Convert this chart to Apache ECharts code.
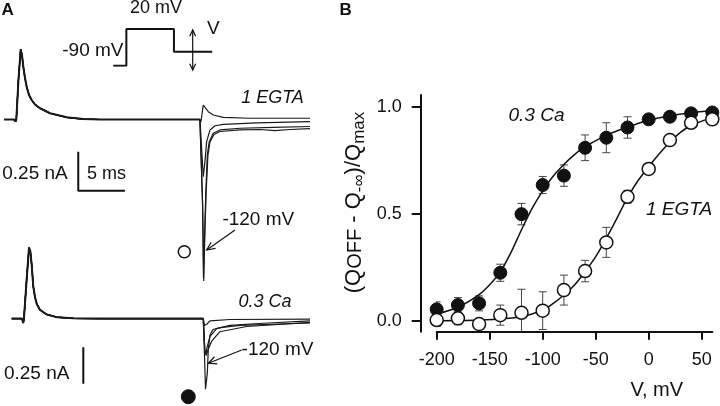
<!DOCTYPE html>
<html><head><meta charset="utf-8">
<script src="https://cdn.jsdelivr.net/npm/echarts@6/dist/echarts.min.js"></script>
<style>html,body{margin:0;padding:0;background:#fff}#c{width:720px;height:406px}</style>
</head><body><div id="c"></div>
<script>
// ---------- Panel A: current traces (time in ms, current in nA) ----------
const egtaOnT = [0,1.07,1.18,1.25,1.32,1.55,1.79,1.93,2.07,2.25,2.43,2.68,2.97,3.32,3.86,4.93,6.72,8.5,10.29,21.0];
const egtaOnI = [0,0,0.01,-0.013,0,0.253,0.45,0.413,0.338,0.266,0.21,0.157,0.125,0.096,0.072,0.04,0.014,0.003,0,0];
const egtaOff1T = [21.0,21.11,21.36,21.54,21.9,22.43,23.5,26.37,32.8];
const egtaOff1I = [0,-0.016,0.093,0.083,0.05,0.029,0.014,0.008,0.008];
const egtaOff2T = [21.0,21.36,21.54,21.72,22.08,22.62,23.51,27.09,32.8];
const egtaOff2I = [0,-0.367,-0.27,-0.142,-0.067,-0.04,-0.031,-0.021,-0.013];
const egtaOff3T = [21.0,21.28,21.38,21.49,21.62,21.79,22.0,22.43,23.15,25.29,28.86,32.8];
const egtaOff3I = [0,-0.516,-1.016,-0.772,-0.484,-0.228,-0.142,-0.088,-0.067,-0.056,-0.05,-0.045];
const egtaOff4T = [21.0,21.3,21.41,21.54,21.68,21.86,22.08,22.51,23.15,25.29,27.44,29.04,30.65,32.8];
const egtaOff4I = [0,-0.58,-1.035,-0.708,-0.452,-0.228,-0.144,-0.096,-0.077,-0.067,-0.064,-0.071,-0.064,-0.058];

const caOnT = [0.83,1.93,2.07,2.14,2.41,2.68,2.82,2.97,3.14,3.32,3.5,3.86,4.58,5.65,7.43,10.29,21.36];
const caOnI = [0,0,-0.03,0.002,0.252,0.487,0.463,0.369,0.22,0.149,0.103,0.06,0.028,0.01,0.002,0,0];
const caOff1T = [21.36,21.49,21.76,22.08,24.22,32.8];
const caOff1I = [0,-0.047,-0.037,-0.015,-0.006,-0.003];
const caOff2T = [21.36,21.52,21.65,21.72,22.08,22.8,24.22,27.79,32.8];
const caOff2I = [0,-0.216,-0.244,-0.208,-0.122,-0.069,-0.047,-0.032,-0.015];
const caOff3T = [21.36,21.54,21.68,21.86,22.26,23.15,26.01,32.8];
const caOff3I = [0,-0.229,-0.254,-0.216,-0.154,-0.09,-0.054,-0.026];
const caOff4T = [21.36,21.51,21.6,21.71,21.79,21.9,22.08,22.4,23.15,25.29,32.8];
const caOff4I = [0,-0.293,-0.485,-0.421,-0.378,-0.208,-0.112,-0.075,-0.062,-0.046,-0.03];

// pulse protocol (schematic)
const protocolT = [0,1.4,1.4,6.5,6.5,10.6];
const protocolV = [-90,-90,20,20,-48,-48];
// scale bars
const scaleMs = 5;
const scaleNA = 0.25;

// ---------- Panel B: charge vs voltage ----------
const voltages = [-200,-180,-160,-140,-120,-100,-80,-60,-40,-20,0,20,40,60];
const ca03 = [0.053,0.073,0.081,0.224,0.498,0.634,0.678,0.808,0.855,0.903,0.941,0.953,0.969,0.973];
const ca03Err = [0.035,0.035,0.035,0.04,0.05,0.04,0.05,0.06,0.07,0.05,0.02,0.015,0.015,0.015];
const egta1 = [0.003,0.011,-0.016,0.026,0.037,0.047,0.143,0.232,0.366,0.579,0.709,0.844,0.925,0.941];
const egta1Err = [0.03,0.03,0.02,0.047,0.11,0.088,0.07,0.05,0.07,0.03,0.02,0.02,0.02,0.02];
const fitCaV = [-200,-180,-160,-150,-140,-130,-120,-110,-100,-90,-80,-70,-60,-40,-20,0,20,40,60];
const fitCa = [0.031,0.063,0.122,0.168,0.228,0.318,0.425,0.525,0.607,0.676,0.73,0.776,0.813,0.866,0.905,0.937,0.958,0.972,0.981];
const fitEgtaV = [-200,-160,-120,-100,-90,-80,-70,-60,-50,-40,-30,-20,-10,0,10,20,30,40,60];
const fitEgta = [0.0,0.003,0.019,0.05,0.081,0.12,0.167,0.229,0.299,0.385,0.478,0.575,0.655,0.72,0.78,0.835,0.88,0.912,0.95];
const xTicks = [-200,-150,-100,-50,0,50];
const yTicks = [0,0.5,1.0];

const FONT = 'Liberation Sans, Arial, Helvetica, sans-serif';
const INK = '#111';

function pairs(t, v){ return t.map((x,i)=>[x, v[i]]); }
function trace(onT,onI,offT,offI){ return pairs(onT,onI).concat(pairs(offT,offI).slice(1)); }

function traceSeries(data, grid, w){
  return {type:'line', xAxisIndex:grid, yAxisIndex:grid, data, symbol:'none', silent:true,
    lineStyle:{color:'#1a1a1a', width:w}, animation:false, z:3};
}

const egtaTraces = [
  trace(egtaOnT,egtaOnI,egtaOff1T,egtaOff1I),
  trace(egtaOnT,egtaOnI,egtaOff2T,egtaOff2I),
  trace(egtaOnT,egtaOnI,egtaOff3T,egtaOff3I),
  trace(egtaOnT,egtaOnI,egtaOff4T,egtaOff4I)
];
const caTraces = [
  trace(caOnT,caOnI,caOff1T,caOff1I),
  trace(caOnT,caOnI,caOff2T,caOff2I),
  trace(caOnT,caOnI,caOff3T,caOff3I),
  trace(caOnT,caOnI,caOff4T,caOff4I)
];

// arrow helper (pixel annotation)
function arrowGraphics(x1,y1,x2,y2,len,both){
  const out=[];
  out.push({type:'line',shape:{x1,y1,x2,y2},style:{stroke:INK,lineWidth:1.2}});
  const head=(hx,hy,fx,fy)=>{
    const dx=fx-hx, dy=fy-hy, L=Math.hypot(dx,dy), ux=dx/L, uy=dy/L;
    const a=25*Math.PI/180, c=Math.cos(a), s=Math.sin(a);
    const p1=[hx+len*(ux*c-uy*s), hy+len*(ux*s+uy*c)];
    const p2=[hx+len*(ux*c+uy*s), hy+len*(-ux*s+uy*c)];
    out.push({type:'polyline',shape:{points:[p1,[hx,hy],p2]},style:{stroke:INK,lineWidth:1.2,fill:null}});
  };
  head(x2,y2,x1,y1);
  if(both) head(x1,y1,x2,y2);
  return out;
}

function txt(text,x,y,opt){
  return Object.assign({type:'text',x,y,style:Object.assign({text,fill:INK,font:'19px '+FONT,align:'center',verticalAlign:'middle'},opt||{})});
}

const chart = echarts.init(document.getElementById('c'), null, {renderer:'canvas'});

const errItem = (color) => function(params, api){
  const x=api.value(0), y=api.value(1), e=api.value(2);
  const t=api.coord([x,y+e]), b=api.coord([x,y-e]);
  const hw=4;
  return {type:'group',children:[
    {type:'line',shape:{x1:t[0],y1:t[1],x2:b[0],y2:b[1]},style:{stroke:color,lineWidth:1}},
    {type:'line',shape:{x1:t[0]-hw,y1:t[1],x2:t[0]+hw,y2:t[1]},style:{stroke:color,lineWidth:1}},
    {type:'line',shape:{x1:b[0]-hw,y1:b[1],x2:b[0]+hw,y2:b[1]},style:{stroke:color,lineWidth:1}}
  ]};
};

const option = {
  animation:false,
  backgroundColor:'#fff',
  grid:[
    {left:4, top:41.5, width:306, height:265.2},
    {left:4, top:238.5, width:306, height:179.4},
    {left:113.3, top:29, width:99, height:36.7},
    {left:436.7, top:95, width:275.6, height:236.7}
  ],
  xAxis:[
    {gridIndex:0,type:'value',min:0,max:32.8,show:false},
    {gridIndex:1,type:'value',min:0,max:32.8,show:false},
    {gridIndex:2,type:'value',min:0,max:10.61,show:false},
    {gridIndex:3,type:'value',min:-200,max:60,
      splitLine:{show:false},
      axisLine:{show:true,onZero:false,lineStyle:{color:INK,width:2}},
      axisTick:{show:true,length:8,lineStyle:{color:INK,width:2},customValues:xTicks},
      axisLabel:{show:true,margin:19,fontSize:18,fontFamily:FONT,color:INK,customValues:xTicks}
    }
  ],
  yAxis:[
    {gridIndex:0,type:'value',min:-1.2,max:0.5,show:false},
    {gridIndex:1,type:'value',min:-0.6,max:0.55,show:false},
    {gridIndex:2,type:'value',min:-90,max:20,show:false},
    {gridIndex:3,type:'value',min:-0.0514,max:1.0547,offset:16,
      splitLine:{show:false},
      axisLine:{show:true,onZero:false,lineStyle:{color:INK,width:2}},
      axisTick:{show:true,length:9,lineStyle:{color:INK,width:2},customValues:yTicks},
      axisLabel:{show:true,margin:19,fontSize:18,fontFamily:FONT,color:INK,customValues:yTicks,
        formatter:v=>v.toFixed(1)}
    }
  ],
  series:[
    ...egtaTraces.map(d=>traceSeries(d,0,1.2)),
    ...caTraces.map(d=>traceSeries(d,1,1.2)),
    // overlapping onset portions drawn heavier, as in the superimposed recordings
    traceSeries(pairs(egtaOnT,egtaOnI),0,2),
    traceSeries(pairs(caOnT,caOnI),1,2),
    // scale bars, top
    {type:'line',xAxisIndex:0,yAxisIndex:0,symbol:'none',silent:true,lineStyle:{color:INK,width:2},
      data:[[7.96,-0.456+scaleNA],[7.96,-0.456],[7.96+scaleMs,-0.456]]},
    // scale bar, bottom
    {type:'line',xAxisIndex:1,yAxisIndex:1,symbol:'none',silent:true,lineStyle:{color:INK,width:2},
      data:[[8.5,-0.197],[8.5,-0.197-scaleNA]]},
    // protocol
    {type:'line',xAxisIndex:2,yAxisIndex:2,symbol:'none',silent:true,lineStyle:{color:INK,width:2},
      data:pairs(protocolT,protocolV)},
    // panel B fits
    {type:'line',xAxisIndex:3,yAxisIndex:3,symbol:'none',smooth:0.3,lineStyle:{color:INK,width:1.5},
      data:pairs(fitCaV,fitCa),z:2},
    {type:'line',xAxisIndex:3,yAxisIndex:3,symbol:'none',smooth:0.3,lineStyle:{color:INK,width:1.5},
      data:pairs(fitEgtaV,fitEgta),z:2},
    // error bars
    {type:'custom',xAxisIndex:3,yAxisIndex:3,clip:true,renderItem:errItem('#444'),
      data:voltages.map((v,i)=>[v,ca03[i],ca03Err[i]]),z:1},
    {type:'custom',xAxisIndex:3,yAxisIndex:3,clip:true,renderItem:errItem('#444'),
      data:voltages.map((v,i)=>[v,egta1[i],egta1Err[i]]),z:1},
    // markers
    {type:'scatter',xAxisIndex:3,yAxisIndex:3,symbol:'circle',symbolSize:13,
      itemStyle:{color:INK,borderColor:INK,borderWidth:1,opacity:1},data:pairs(voltages,ca03),z:4},
    {type:'scatter',xAxisIndex:3,yAxisIndex:3,symbol:'circle',symbolSize:13,
      itemStyle:{color:'#fff',borderColor:INK,borderWidth:1.5,opacity:1},data:pairs(voltages,egta1),z:5}
  ],
  graphic:[
    txt('A',1.5,1.5,{font:'bold 17px '+FONT,align:'left',verticalAlign:'top'}),
    txt('B',339.5,1.5,{font:'bold 17px '+FONT,align:'left',verticalAlign:'top'}),
    txt('20 mV',156,8,{font:'18px '+FONT}),
    txt('-90 mV',123.5,50.5,{font:'19px '+FONT,align:'right'}),
    txt('V',213.3,28.3,{font:'19px '+FONT}),
    ...arrowGraphics(192.7,30,192.7,70,7,true),
    txt('1 EGTA',272.5,98,{font:'italic 18px '+FONT}),
    txt('0.25 nA',35,173.3,{font:'19px '+FONT}),
    txt('5 ms',106.5,174.5,{font:'18px '+FONT}),
    txt('-120 mV',258.3,220,{font:'19px '+FONT}),
    ...arrowGraphics(235,230,206.7,250,9,false),
    {type:'circle',shape:{cx:184.3,cy:251.7,r:6},style:{fill:'#fff',stroke:INK,lineWidth:1.5}},
    txt('0.3 Ca',265,302,{font:'italic 18px '+FONT}),
    txt('-120 mV',277.5,350,{font:'19px '+FONT}),
    ...arrowGraphics(241.7,350,208.3,363.3,9,false),
    txt('0.25 nA',36.7,374,{font:'19px '+FONT}),
    {type:'circle',shape:{cx:188.3,cy:396.7,r:7},style:{fill:INK,stroke:INK,lineWidth:1}},
    txt('0.3 Ca',536.5,116,{font:'italic 19px '+FONT}),
    txt('1 EGTA',679,210,{font:'italic 19px '+FONT}),
    txt('V, mV',656.7,390,{font:'20px '+FONT}),
    {type:'text',x:354,y:202.5,rotation:Math.PI/2,
      style:{
        text:'{n|(Q}{o|OFF}{n| - Q}{s|-∞}{n|)/Q}{s|max}',
        align:'center',verticalAlign:'middle',fill:INK,
        rich:{
          n:{fontSize:22,fontFamily:FONT,fill:INK,lineHeight:28,verticalAlign:'middle'},
          o:{fontSize:20,fontFamily:FONT,fill:INK,lineHeight:28,verticalAlign:'middle',padding:[2,0,0,0]},
          s:{fontSize:17,fontFamily:FONT,fill:INK,lineHeight:17,verticalAlign:'bottom'}
        }
      }}
  ]
};
chart.setOption(option);
</script>
</body></html>
